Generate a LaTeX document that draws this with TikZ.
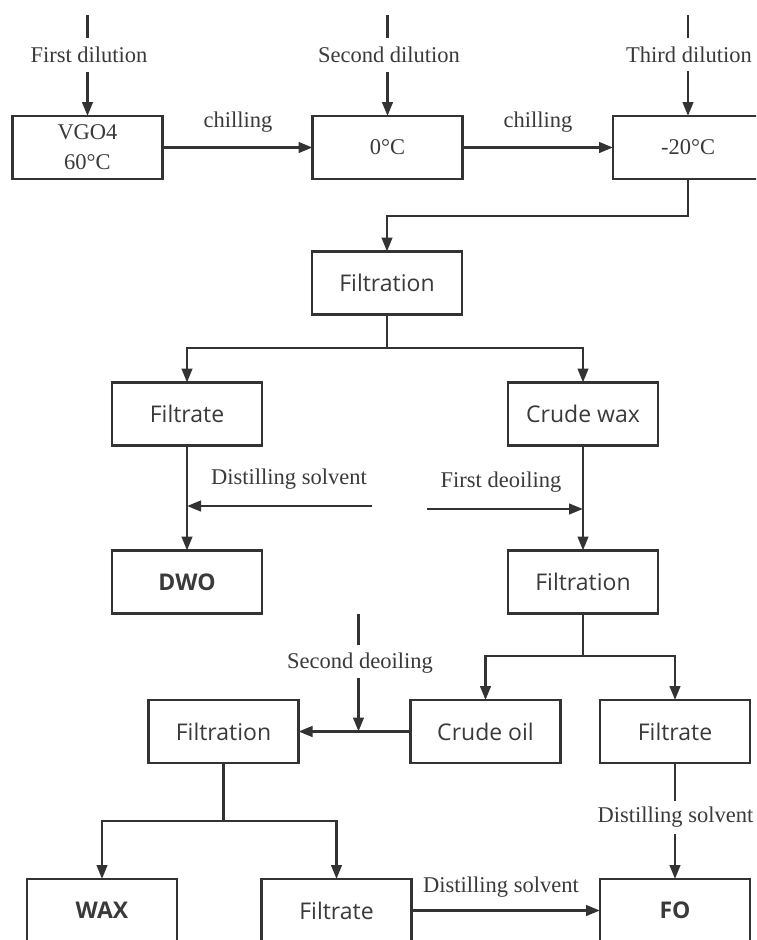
\documentclass[tikz,border=0pt]{standalone}
\usepackage{fontspec}
\setmainfont{Liberation Serif}
\newfontfamily\sansA{Open Sans}
\usetikzlibrary{arrows.meta}
\definecolor{ink}{HTML}{333333}
\definecolor{txt}{HTML}{3A3A3A}
\begin{document}
\begin{tikzpicture}[x=1pt,y=-1pt,
  box/.style={draw=ink, line width=2.7pt, minimum width=150pt, minimum height=63pt,
    inner sep=0pt, outer sep=0pt, text=txt, font=\sansA\fontsize{23}{28}\selectfont},
  bbox/.style={box, font=\sansA\bfseries\fontsize{23}{28}\selectfont},
  tbox/.style={box, font=\fontsize{22.5}{30}\selectfont, align=center},
  lbl/.style={text=txt, font=\fontsize{22.5}{27}\selectfont, inner sep=0pt},
  conn/.style={draw=ink, line width=2.7pt},
  arr/.style={conn, -{Triangle[length=14pt,width=10.5pt]}},
]
\clip (0,0) rectangle (756,940);
\fill[white] (0,0) rectangle (756,940);

% boxes
\node[tbox] (vgo) at (87.5,147.5) {VGO4\\60°C};
\node[tbox] (t0)  at (387.5,147.5) {0°C};
\node[tbox] (t20) at (688,147.5) {-20°C};
\node[box] (f1)  at (387,283) {Filtration};
\node[box] (fl1) at (187,414) {Filtrate};
\node[box] (cw)  at (583,414) {Crude wax};
\node[bbox] (dwo) at (187,582) {DWO};
\node[box] (f2)  at (583,582) {Filtration};
\node[box] (co)  at (485.5,731.5) {Crude oil};
\node[box] (fl2) at (675,731.5) {Filtrate};
\node[box] (f3)  at (223.5,731.5) {Filtration};
\node[bbox] (wax) at (102,910.5) {WAX};
\node[box] (fl3) at (336.5,910.5) {Filtrate};
\node[bbox] (fo)  at (675,910.5) {FO};

% dilutions
\coordinate (d1a) at (87.5,15);  \coordinate (d1b) at (87.5,38);  \coordinate (d1c) at (87.5,72);
\coordinate (d2a) at (387.5,15); \coordinate (d2b) at (387.5,38); \coordinate (d2c) at (387.5,72);
\coordinate (d3a) at (688,15);   \coordinate (d3b) at (688,38);   \coordinate (d3c) at (688,71);
\node[lbl] (l1) at (89,55) {First dilution};
\node[lbl] (l2) at (389,55) {Second dilution};
\node[lbl] (l3) at (689,55) {Third dilution};
\draw[conn] (d1a) -- (d1b); \draw[arr] (d1c) -- (vgo.north);
\draw[conn] (d2a) -- (d2b); \draw[arr] (d2c) -- (t0.north);
\draw[conn] (d3a) -- (d3b); \draw[arr] (d3c) -- (t20.north);

% chilling
\draw[arr] (vgo.east) -- (t0.west);
\draw[arr] (t0.east) -- (t20.west);
\node[lbl] (c1) at (238,122) {chilling};
\node[lbl] (c2) at (538,122) {chilling};

% to filtration 1
\coordinate (j1) at (688,216);
\draw[arr] (t20.south) -- (j1) -| (f1.north);

% split 1
\coordinate (j2) at (387,348);
\draw[conn] (f1.south) -- (j2);
\draw[arr] (j2) -| (fl1.north);
\draw[arr] (j2) -| (cw.north);

% filtrate -> DWO
\draw[arr] (fl1.south) -- (dwo.north);
\coordinate (ds1) at (372,506);
\draw[arr] (ds1) -- (ds1 -| fl1.south);
\node[lbl] (ld1) at (289,479) {Distilling solvent};

% crude wax -> filtration 2
\draw[arr] (cw.south) -- (f2.north);
\coordinate (fd1) at (427,509);
\draw[arr] (fd1) -- (fd1 -| cw.south);
\node[lbl] (lfd) at (501,482) {First deoiling};

% split 2
\coordinate (j3) at (583,656);
\draw[conn] (f2.south) -- (j3);
\draw[arr] (j3) -| (co.north);
\draw[arr] (j3) -| (fl2.north);

% crude oil -> filtration 3
\draw[arr] (co.west) -- (f3.east);
\coordinate (sd1) at (358.5,614); \coordinate (sd2) at (358.5,645); \coordinate (sd3) at (358.5,678);
\node[lbl] (lsd) at (360,663) {Second deoiling};
\draw[conn] (sd1) -- (sd2);
\draw[arr] (sd3) -- (sd3 |- co.west);

% split 3
\coordinate (j4) at (223.5,821);
\draw[conn] (f3.south) -- (j4);
\draw[arr] (j4) -| (wax.north);
\draw[arr] (j4) -| (fl3.north);

% filtrate right -> FO
\coordinate (r1) at (675,801); \coordinate (r2) at (675,834);
\node[lbl] (lr) at (675.5,817) {Distilling solvent};
\draw[conn] (fl2.south) -- (r1);
\draw[arr] (r2) -- (fo.north);

% filtrate bottom -> FO
\draw[arr] (fl3.east) -- (fo.west);
\node[lbl] (lb) at (501,887) {Distilling solvent};
\end{tikzpicture}
\end{document}
